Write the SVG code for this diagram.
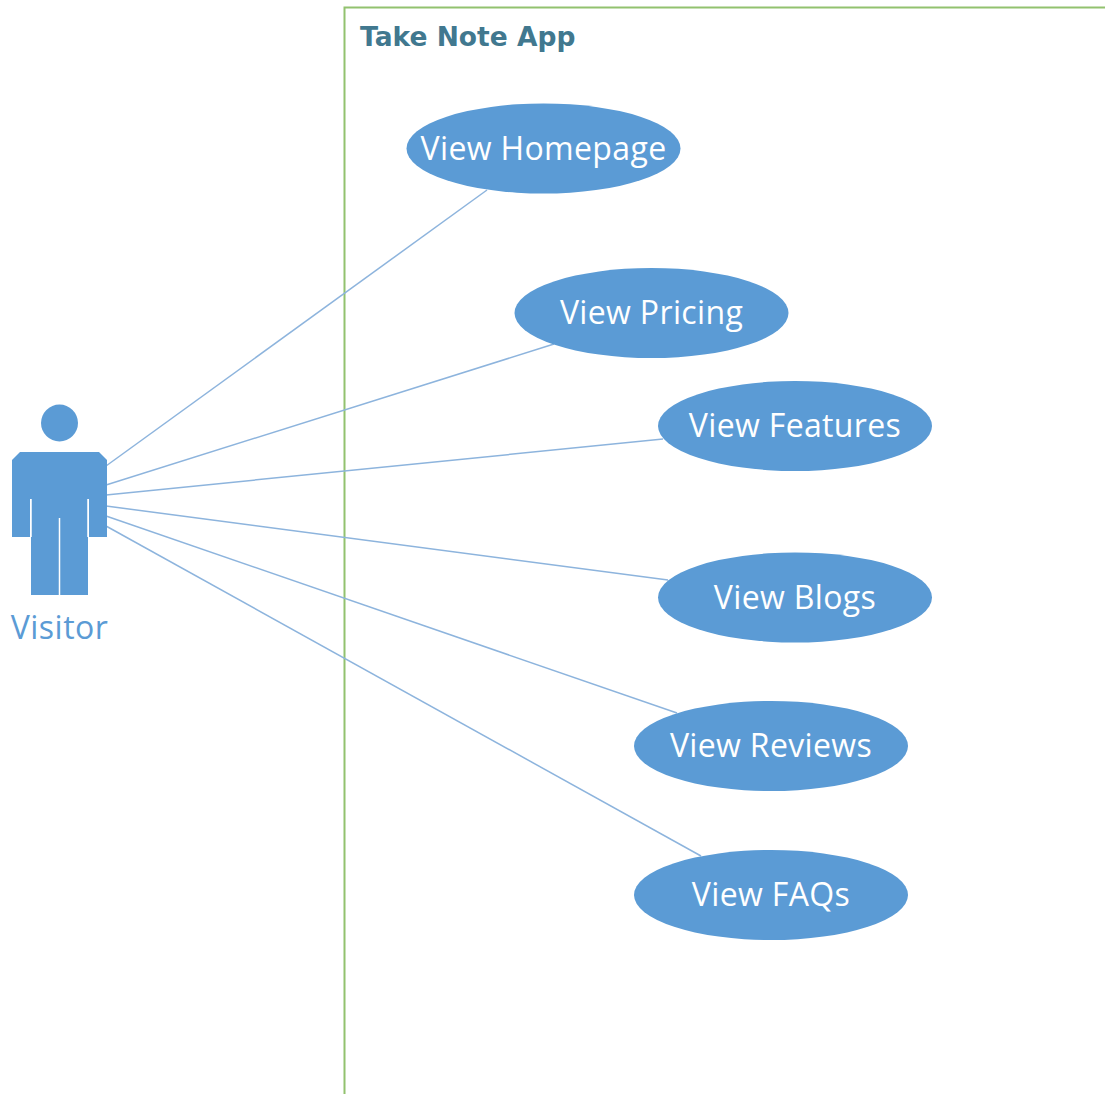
<svg xmlns="http://www.w3.org/2000/svg" width="1105" height="1094" viewBox="0 0 1105 1094">
<style>
.uc ellipse{fill:#5b9bd5}
.uc text{font-family:"Open Sans","Noto Sans",sans-serif;font-size:32px;fill:#fff;text-anchor:middle;letter-spacing:.35px}
#connectors line{stroke:#8db4dd;stroke-width:1.5}
</style>
<rect width="1105" height="1094" fill="#fff"/>
<path d="M344.500 1094V7.500H1105" fill="none" stroke="#92c26f" stroke-width="2"/>
<text x="360" y="46" font-family="DejaVu Sans,sans-serif" font-weight="700" font-size="26.500" fill="#41788f">Take Note App</text>
<g id="connectors">
<line x1="106" y1="466" x2="487" y2="190"/>
<line x1="106" y1="485" x2="554" y2="344"/>
<line x1="106" y1="495" x2="663" y2="439"/>
<line x1="106" y1="506" x2="668" y2="580"/>
<line x1="106" y1="516" x2="677" y2="713"/>
<line x1="106" y1="526" x2="701" y2="856"/>
</g>
<g id="visitor">
<circle cx="59.500" cy="423" r="18.500" fill="#5b9bd5"/>
<path d="M20 452H99L107 460V537H89V499H88V595H31V499H30V537H12V460Z" fill="#5b9bd5"/>
<path d="M59.500 518V595M31 499V537M88 499V537" stroke="#fff" stroke-width="1.500" fill="none"/>
<text x="59.500" y="639" font-family="Open Sans,Noto Sans,sans-serif" font-size="32" letter-spacing=".5" fill="#5b9bd5" text-anchor="middle">Visitor</text>
</g>
<g id="homepage" class="uc"><ellipse cx="543.500" cy="148.500" rx="137" ry="45"/><text x="543.500" y="160">View Homepage</text></g>
<g id="pricing" class="uc"><ellipse cx="651.500" cy="313" rx="137" ry="45"/><text x="651.500" y="324">View Pricing</text></g>
<g id="features" class="uc"><ellipse cx="795" cy="426" rx="137" ry="45"/><text x="795" y="437">View Features</text></g>
<g id="blogs" class="uc"><ellipse cx="795" cy="597.500" rx="137" ry="45"/><text x="795" y="609">View Blogs</text></g>
<g id="reviews" class="uc"><ellipse cx="771" cy="746" rx="137" ry="45"/><text x="771" y="757">View Reviews</text></g>
<g id="faqs" class="uc"><ellipse cx="771" cy="895" rx="137" ry="45"/><text x="771" y="906">View FAQs</text></g>
</svg>
